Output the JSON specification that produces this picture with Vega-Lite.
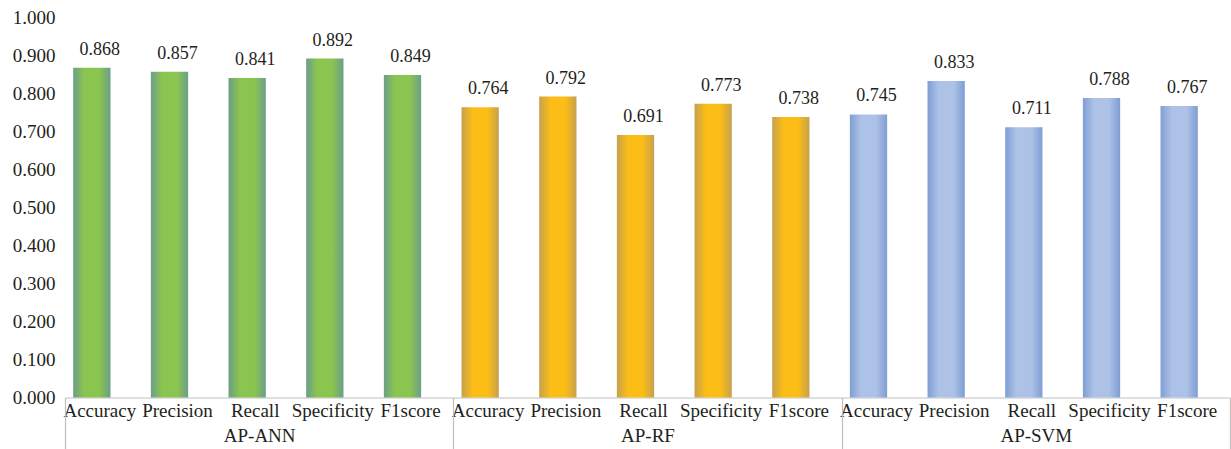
{
  "$schema": "https://vega.github.io/schema/vega-lite/v6.json",
  "width": 1165,
  "height": 380,
  "autosize": "none",
  "padding": {"left": 65, "top": 17.5, "right": 1, "bottom": 51.5},
  "background": "white",
  "config": {
    "view": {"stroke": null},
    "font": "Liberation Serif, serif",
    "axis": {"labelFont": "Liberation Serif, serif", "labelColor": "#231f20", "titleFont": "Liberation Serif, serif"}
  },
  "data": {
    "values": [
      {"group": "AP-ANN", "metric": "Accuracy", "key": "AP-ANN|Accuracy", "value": 0.868},
      {"group": "AP-ANN", "metric": "Precision", "key": "AP-ANN|Precision", "value": 0.857},
      {"group": "AP-ANN", "metric": "Recall", "key": "AP-ANN|Recall", "value": 0.841},
      {"group": "AP-ANN", "metric": "Specificity", "key": "AP-ANN|Specificity", "value": 0.892},
      {"group": "AP-ANN", "metric": "F1score", "key": "AP-ANN|F1score", "value": 0.849},
      {"group": "AP-RF", "metric": "Accuracy", "key": "AP-RF|Accuracy", "value": 0.764},
      {"group": "AP-RF", "metric": "Precision", "key": "AP-RF|Precision", "value": 0.792},
      {"group": "AP-RF", "metric": "Recall", "key": "AP-RF|Recall", "value": 0.691},
      {"group": "AP-RF", "metric": "Specificity", "key": "AP-RF|Specificity", "value": 0.773},
      {"group": "AP-RF", "metric": "F1score", "key": "AP-RF|F1score", "value": 0.738},
      {"group": "AP-SVM", "metric": "Accuracy", "key": "AP-SVM|Accuracy", "value": 0.745},
      {"group": "AP-SVM", "metric": "Precision", "key": "AP-SVM|Precision", "value": 0.833},
      {"group": "AP-SVM", "metric": "Recall", "key": "AP-SVM|Recall", "value": 0.711},
      {"group": "AP-SVM", "metric": "Specificity", "key": "AP-SVM|Specificity", "value": 0.788},
      {"group": "AP-SVM", "metric": "F1score", "key": "AP-SVM|F1score", "value": 0.767}
    ]
  },
  "resolve": {"scale": {"x": "independent"}, "axis": {"x": "independent"}},
  "layer": [
    {
      "encoding": {
        "x": {
          "field": "key", "type": "nominal", "sort": null,
          "scale": {"paddingInner": 0.52, "paddingOuter": 0.26},
          "axis": {
            "orient": "bottom", "title": null,
            "labelExpr": "split(datum.value, '|')[1]",
            "labelAngle": 0, "labelFontSize": 19, "labelPadding": 4, "labelOffset": -4,
            "ticks": false, "domainColor": "#bfbfbf", "domainWidth": 1.2
          }
        },
        "y": {
          "field": "value", "type": "quantitative",
          "scale": {"domain": [0, 1], "nice": false},
          "axis": {
            "title": null, "values": [0, 0.1, 0.2, 0.3, 0.4, 0.5, 0.6, 0.7, 0.8, 0.9, 1.0],
            "format": ".3f", "labelFontSize": 19, "labelPadding": 10,
            "ticks": false, "domain": false, "grid": false
          }
        }
      },
      "layer": [
        {
          "transform": [{"filter": "datum.group === 'AP-ANN'"}],
          "mark": {
            "type": "bar", "xOffset": -12,
            "color": {"x1": 0, "y1": 0, "x2": 1, "y2": 0, "gradient": "linear",
              "stops": [
                {"offset": 0, "color": "#6a9f88"},
                {"offset": 0.3, "color": "#8cc450"},
                {"offset": 0.7, "color": "#8cc450"},
                {"offset": 1, "color": "#6a9f88"}
              ]}
          }
        },
        {
          "transform": [{"filter": "datum.group === 'AP-RF'"}],
          "mark": {
            "type": "bar", "xOffset": -12,
            "color": {"x1": 0, "y1": 0, "x2": 1, "y2": 0, "gradient": "linear",
              "stops": [
                {"offset": 0, "color": "#c6a14e"},
                {"offset": 0.3, "color": "#fbbd16"},
                {"offset": 0.7, "color": "#fbbd16"},
                {"offset": 1, "color": "#c6a14e"}
              ]}
          }
        },
        {
          "transform": [{"filter": "datum.group === 'AP-SVM'"}],
          "mark": {
            "type": "bar", "xOffset": -12,
            "color": {"x1": 0, "y1": 0, "x2": 1, "y2": 0, "gradient": "linear",
              "stops": [
                {"offset": 0, "color": "#7f9ed5"},
                {"offset": 0.3, "color": "#adc2e6"},
                {"offset": 0.7, "color": "#adc2e6"},
                {"offset": 1, "color": "#7f9ed5"}
              ]}
          }
        },
        {
          "mark": {"type": "text", "baseline": "middle", "dy": -18, "xOffset": -4, "fontSize": 18, "color": "#231f20", "font": "Liberation Serif, serif"},
          "encoding": {"text": {"field": "value", "type": "quantitative", "format": ".3f"}}
        }
      ]
    },
    {
      "mark": {"type": "bar", "opacity": 0},
      "encoding": {
        "x": {
          "field": "group", "type": "nominal", "sort": null,
          "scale": {"paddingInner": 0, "paddingOuter": 0},
          "axis": {
            "orient": "bottom", "title": null, "labelAngle": 0, "labelFontSize": 19,
            "labelPadding": -23, "domain": false,
            "ticks": true, "tickBand": "extent", "tickSize": 52, "tickColor": "#bfbfbf", "tickWidth": 1.2
          }
        }
      }
    }
  ]
}
